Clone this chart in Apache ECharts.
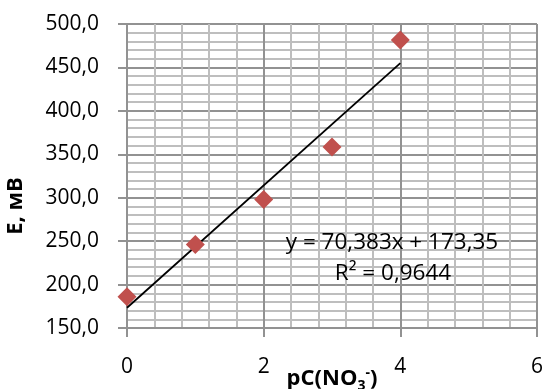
<!DOCTYPE html>
<html>
<head>
<meta charset="utf-8">
<script src="https://cdn.jsdelivr.net/npm/echarts@6/dist/echarts.min.js"></script>
<style>html,body{margin:0;padding:0;background:#fff}#c{width:544px;height:389px}</style>
</head>
<body>
<div id="c"></div>
<script>
const xValues = [0, 1, 2, 3, 4];
const yValues = [186, 246, 298, 358.5, 481.5];
const trendX = [0, 4];
const trendY = [173.35, 454.88];
const equationText = 'y = 70,383x + 173,35';
const r2Text = 'R² = 0,9644';
const xTitle = 'pC(NO';
const yTitle = 'E, мВ';

const FONT = '"Open Sans", "Liberation Sans", sans-serif';
const chart = echarts.init(document.getElementById('c'), null, {renderer: 'canvas'});
const fmt = v => v.toFixed(1).replace('.', ',');
const MAJOR = '#929292', MINOR = '#bebebe';
chart.setOption({
  animation: false,
  grid: {left: 127, right: 7, top: 24, bottom: 61, containLabel: false, outerBoundsMode: 'none'},
  xAxis: {
    type: 'value', min: 0, max: 6, interval: 2,
    axisLine: {show: true, lineStyle: {color: MAJOR, width: 2}},
    axisTick: {show: true, inside: false, length: 9, lineStyle: {color: MAJOR, width: 2}},
    axisLabel: {color: '#000', fontFamily: FONT, fontSize: 21, margin: 29},
    splitLine: {show: true, lineStyle: {color: MAJOR, width: 2}},
    minorTick: {show: false, splitNumber: 5},
    minorSplitLine: {show: true, lineStyle: {color: MINOR, width: 2}}
  },
  yAxis: {
    type: 'value', min: 150, max: 500, interval: 50,
    axisLine: {show: true, lineStyle: {color: MAJOR, width: 2}},
    axisTick: {show: true, inside: false, length: 9, lineStyle: {color: MAJOR, width: 2}},
    axisLabel: {color: '#000', fontFamily: FONT, fontSize: 21, margin: 28, formatter: fmt},
    splitLine: {show: true, lineStyle: {color: MAJOR, width: 2}},
    minorTick: {show: false, splitNumber: 5},
    minorSplitLine: {show: true, lineStyle: {color: MINOR, width: 2}}
  },
  series: [
    {
      type: 'line', data: trendX.map((x, i) => [x, trendY[i]]),
      showSymbol: false, symbol: 'none', lineStyle: {color: '#000', width: 1.8}, z: 3
    },
    {
      type: 'scatter', data: xValues.map((x, i) => [x, yValues[i]]),
      symbol: 'diamond', symbolSize: 19, itemStyle: {color: '#C0504D', opacity: 1}, z: 4
    }
  ],
  graphic: [
    {type: 'text', x: 392, y: 243, z: 10, style: {text: equationText, font: '22.5px ' + FONT, fill: '#000', align: 'center', verticalAlign: 'middle'}},
    {type: 'text', x: 393, y: 274, z: 10, style: {text: r2Text, font: '22.5px ' + FONT, fill: '#000', align: 'center', verticalAlign: 'middle'}},
    {type: 'text', x: 332, y: 379, z: 10, style: {
      text: '{b|' + xTitle + '}{s|3}{p|-}{b|)}', align: 'center', verticalAlign: 'middle',
      rich: {
        b: {fontFamily: FONT, fontWeight: 'bold', fontSize: 22, fill: '#000'},
        s: {fontFamily: FONT, fontWeight: 'bold', fontSize: 14, fill: '#000', padding: [14, 0, 0, 0]},
        p: {fontFamily: FONT, fontWeight: 'bold', fontSize: 14, fill: '#000', padding: [0, 0, 12, 0]}
      }
    }},
    {type: 'text', x: 16, y: 206, rotation: Math.PI / 2, z: 10, style: {text: yTitle, font: 'bold 22px ' + FONT, fill: '#000', align: 'center', verticalAlign: 'middle'}}
  ]
});
</script>
</body>
</html>
